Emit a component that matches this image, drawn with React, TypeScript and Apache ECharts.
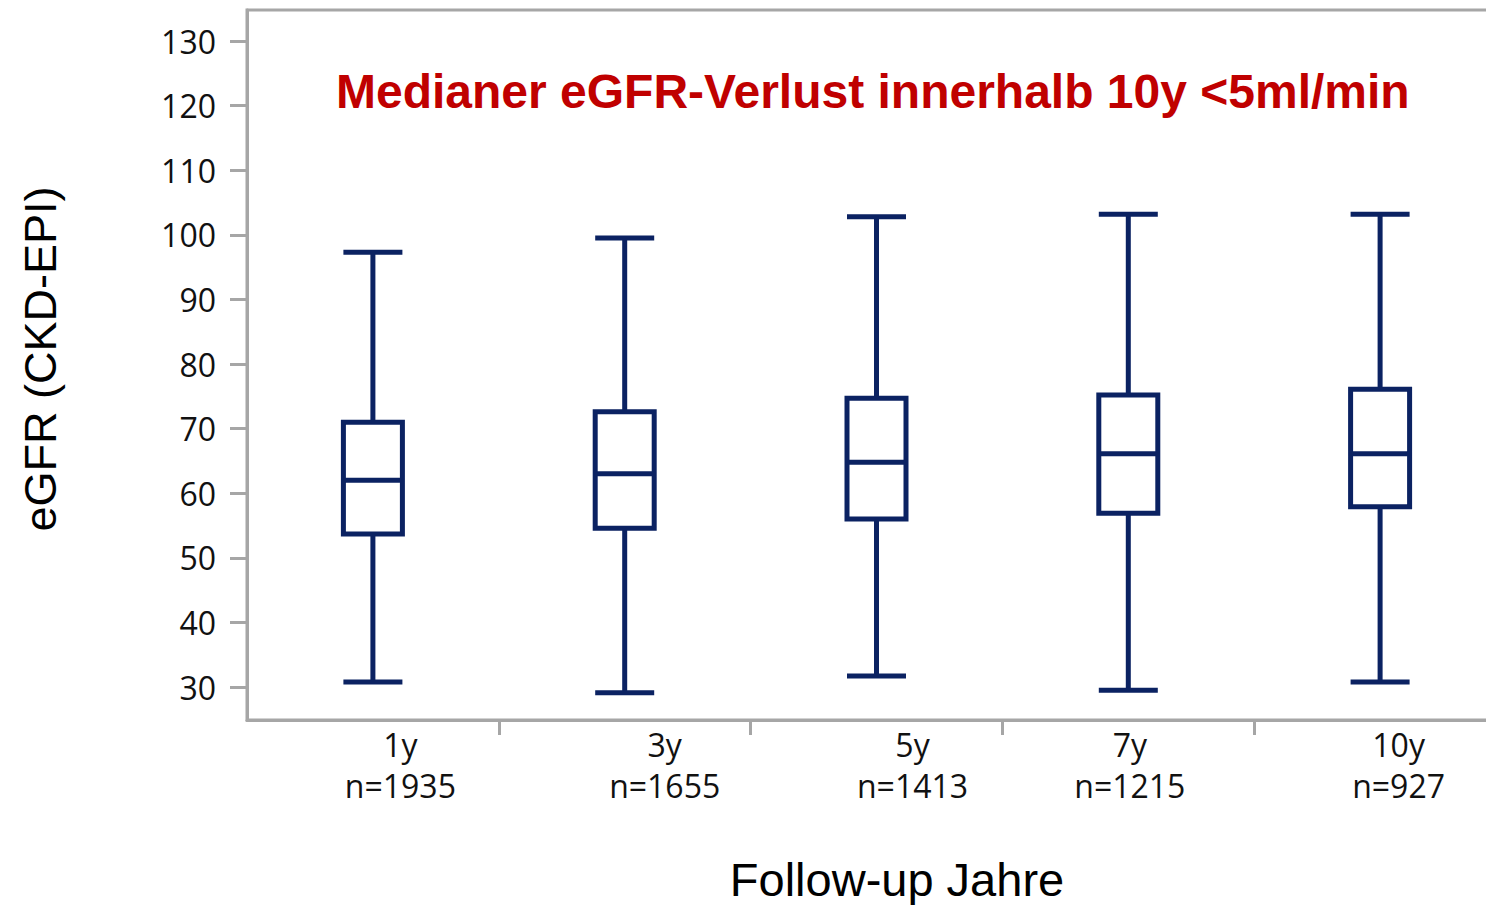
import React, { useEffect, useRef } from "react";
import * as echarts from "echarts";

const categories = ["1y", "3y", "5y", "7y", "10y"];
const counts = ["n=1935", "n=1655", "n=1413", "n=1215", "n=927"];
const lowerWhisker = [30.8, 29.1, 31.7, 29.5, 30.8];
const q1 = [53.7, 54.6, 56.0, 56.9, 57.9];
const median = [62.0, 63.0, 64.8, 66.1, 66.1];
const q3 = [71.0, 72.6, 74.7, 75.2, 76.1];
const upperWhisker = [97.3, 99.5, 102.8, 103.2, 103.2];
const yTicks = [30, 40, 50, 60, 70, 80, 90, 100, 110, 120, 130];

const titleText = "Medianer eGFR-Verlust innerhalb 10y <5ml/min";
const yName = "eGFR (CKD-EPI)";
const xName = "Follow-up Jahre";

// horizontal shift of each category label (layout)
const labelPad = [55, 80, 72, 3, 37];

const NAVY = "#0b2262";
const GRAY = "#a6a6a6";
const TICK_FONT = "'Open Sans', 'Noto Sans', sans-serif";
const ARIAL = "'Liberation Sans', Arial, sans-serif";

export default function App() {
  const ref = useRef<HTMLDivElement>(null);
  useEffect(() => {
    if (!ref.current) return;
    const chart = echarts.init(ref.current, undefined, { renderer: "svg" });
    const rich: Record<string, any> = {};
    labelPad.forEach((p, i) => {
      rich["s" + i] = {
        fontSize: 32,
        lineHeight: 41,
        fontFamily: TICK_FONT,
        color: "#111",
        padding: [0, 0, 0, p],
      };
    });
    const boxData = categories.map((_, i) => [
      lowerWhisker[i],
      q1[i],
      median[i],
      q3[i],
      upperWhisker[i],
    ]);
    chart.setOption({
      animation: false,
      backgroundColor: "#fff",
      title: {
        text: titleText,
        left: 336,
        top: 67,
        padding: 0,
        textStyle: {
          color: "#c00000",
          fontSize: 48,
          fontWeight: "bold",
          fontFamily: ARIAL,
        },
      },
      grid: {
        left: 247,
        top: 10,
        bottom: 185,
        right: 0,
        show: true,
        borderColor: GRAY,
        borderWidth: 3,
        backgroundColor: "transparent",
      },
      xAxis: {
        type: "category",
        data: categories,
        boundaryGap: true,
        axisLine: { lineStyle: { color: GRAY, width: 3 } },
        axisTick: {
          show: true,
          length: 15,
          interval: (index: number) => index > 0,
          lineStyle: { color: GRAY, width: 3 },
        },
        axisLabel: {
          margin: 4,
          interval: 0,
          formatter: (value: string, index: number) =>
            `{s${index}|${value}}\n{s${index}|${counts[index]}}`,
          rich,
        },
        splitLine: { show: false },
      },
      yAxis: {
        type: "value",
        min: 24.9,
        max: 134.8,
        axisLine: { show: true, lineStyle: { color: GRAY, width: 3 } },
        axisTick: {
          show: true,
          length: 17,
          customValues: yTicks,
          lineStyle: { color: GRAY, width: 3 },
        },
        axisLabel: {
          customValues: yTicks,
          margin: 31,
          fontSize: 32,
          fontFamily: TICK_FONT,
          color: "#111",
        },
        splitLine: { show: false },
      },
      graphic: [
        {
          type: "text",
          x: 40,
          y: 359,
          rotation: Math.PI / 2,
          style: {
            text: yName,
            fontSize: 45,
            fontFamily: ARIAL,
            fill: "#000",
            align: "center",
            verticalAlign: "middle",
          },
        },
        {
          type: "text",
          x: 897,
          y: 879,
          style: {
            text: xName,
            fontSize: 47,
            fontFamily: ARIAL,
            fill: "#000",
            align: "center",
            verticalAlign: "middle",
          },
        },
      ],
      series: [
        {
          type: "boxplot",
          data: boxData,
          boxWidth: [59, 59],
          itemStyle: {
            color: "#fff",
            borderColor: NAVY,
            borderWidth: 5,
          },
        },
      ],
    });
    return () => chart.dispose();
  }, []);
  return (
    <div
      style={{
        position: "absolute",
        left: 0,
        top: 0,
        width: 1486,
        height: 905,
        overflow: "hidden",
      }}
    >
      <div ref={ref} style={{ width: 1506, height: 905 }} />
    </div>
  );
}
